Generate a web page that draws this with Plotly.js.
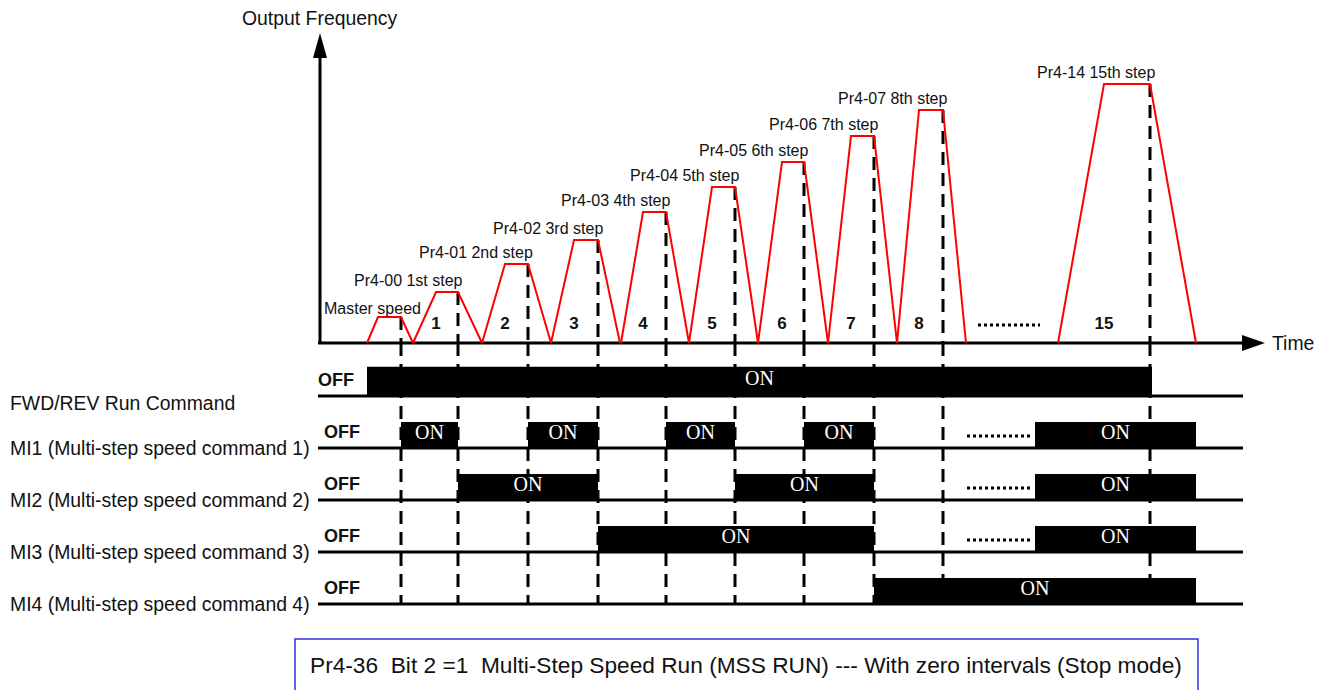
<!DOCTYPE html>
<html><head><meta charset="utf-8">
<script src="https://cdn.plot.ly/plotly-3.0.1.min.js"></script>
<style>html,body{margin:0;padding:0;background:#fff}#chart{width:1324px;height:690px}</style>
</head><body><div id="chart"></div>
<script>
// ---------------- data (time / frequency in diagram units) ----------------
const stepLabels = ['Master speed','Pr4-00 1st step','Pr4-01 2nd step','Pr4-02 3rd step','Pr4-03 4th step',
  'Pr4-04 5th step','Pr4-05 6th step','Pr4-06 7th step','Pr4-07 8th step','Pr4-14 15th step'];
const stepNumbers = ['','1','2','3','4','5','6','7','8','15'];
const stepFreq   = [26, 51, 79, 103, 131, 156, 181, 207, 233, 259];
const rampStart  = [47, 93, 162, 231, 301, 369, 438, 508, 577, 738];
const holdStart  = [58, 116, 185, 254, 323, 392, 462, 531, 599, 784];
const holdEnd    = [81, 138, 208, 278, 346, 415, 484, 554, 623, 830];
const rampEnd    = [93, 162, 231, 300, 369, 438, 508, 577, 646, 876];

const signalNames = ['FWD/REV Run Command','MI1 (Multi-step speed command 1)','MI2 (Multi-step speed command 2)',
  'MI3 (Multi-step speed command 3)','MI4 (Multi-step speed command 4)'];
const fwdOn = [[47, 832]];
const mi1On = [[81, 138], [208, 278], [346, 415], [484, 554], [715, 876]];
const mi2On = [[138, 278], [415, 554], [715, 876]];
const mi3On = [[278, 554], [715, 876]];
const mi4On = [[554, 876]];
const signalsOn = [fwdOn, mi1On, mi2On, mi3On, mi4On];
const timeSpan = [-2, 923];          // extent of time axis / signal lines
const freqSkip = [658, 720];         // "....." between step 8 and 15 (frequency)
const signalSkip = [647, 712];       // "....." in MI1..MI3 rows
const noteText = 'Pr4-36  Bit 2 =1  Multi-Step Speed Run (MSS RUN) --- With zero intervals (Stop mode)';

// ---------------- layout constants ----------------
const W = 1324, H = 690;
const FONT = 'Liberation Sans, Arial, sans-serif';
const SERIF = 'Liberation Serif, Times New Roman, serif';
const TXT = '#111';
const barH = [0.56, 0.5, 0.5, 0.5, 0.5];
const BASE_IN_Y2 = 1.02;   // frequency baseline expressed on the signal axis
const px = v => 1 - v / H;

const traces = [];

// dashed guide lines (frequency part + signal part)
const dx1 = [], dy1 = [], dx2 = [], dy2 = [];
holdEnd.forEach((t, i) => {
  dx1.push(t, t, null); dy1.push(stepFreq[i], 0, null);
  dx2.push(t, t, null); dy2.push(BASE_IN_Y2, -4, null);
});
traces.push({x: dx1, y: dy1, mode: 'lines', line: {color: '#000', width: 3, dash: '13px,8px'}, hoverinfo: 'skip'});
traces.push({x: dx2, y: dy2, yaxis: 'y2', mode: 'lines', line: {color: '#000', width: 3, dash: '13px,8px'}, hoverinfo: 'skip'});

// signal bars
signalsOn.forEach((segs, k) => {
  const bx = [], by = [];
  segs.forEach(([a, b]) => { bx.push(a, b, b, a, a, null); by.push(-k, -k, -k + barH[k], -k + barH[k], -k, null); });
  traces.push({x: bx, y: by, yaxis: 'y2', mode: 'lines', fill: 'toself', fillcolor: '#000',
    line: {width: 0, color: '#000'}, hoverinfo: 'skip'});
});
// signal baselines
signalsOn.forEach((segs, k) => {
  traces.push({x: timeSpan, y: [-k, -k], yaxis: 'y2', mode: 'lines', line: {color: '#000', width: 3}, hoverinfo: 'skip'});
});
// ON labels
signalsOn.forEach((segs, k) => {
  traces.push({x: segs.map(s => (s[0] + s[1]) / 2), y: segs.map(() => -k + barH[k] / 2 + 0.02), yaxis: 'y2',
    mode: 'text', text: segs.map(() => 'ON'), textposition: 'middle center',
    textfont: {family: SERIF, size: 20, color: '#fff'}, hoverinfo: 'skip'});
});
// dotted "skip" marks in signal rows
const sdx = [], sdy = [];
[1, 2, 3].forEach(k => { sdx.push(signalSkip[0], signalSkip[1], null); sdy.push(-k + 0.23, -k + 0.23, null); });
traces.push({x: sdx, y: sdy, yaxis: 'y2', mode: 'lines', line: {color: '#000', width: 3, dash: '3px,3px'}, hoverinfo: 'skip'});
traces.push({x: freqSkip, y: [18, 18], mode: 'lines', line: {color: '#000', width: 3, dash: '3px,3px'}, hoverinfo: 'skip'});

// axes shafts
traces.push({x: [timeSpan[0], timeSpan[1]], y: [0, 0], mode: 'lines', line: {color: '#000', width: 3}, hoverinfo: 'skip'});
traces.push({x: [0, 0], y: [-1, 286], mode: 'lines', line: {color: '#000', width: 3}, hoverinfo: 'skip'});

// frequency profile
const fx = [], fy = [];
stepFreq.forEach((f, i) => {
  fx.push(rampStart[i], holdStart[i], holdEnd[i], rampEnd[i], null);
  fy.push(0, f, f, 0, null);
});
traces.push({x: fx, y: fy, mode: 'lines', line: {color: '#ff0000', width: 2}, hoverinfo: 'skip'});

// step numbers
traces.push({x: holdStart.slice(1), y: holdStart.slice(1).map(() => 18), mode: 'text', text: stepNumbers.slice(1),
  textposition: 'middle center', textfont: {family: FONT, size: 17, color: TXT, weight: 'bold'}, hoverinfo: 'skip'});

// ---------------- annotations ----------------
const ann = [];
stepLabels.forEach((s, i) => {
  const master = i === 0;
  ann.push({xref: 'x', yref: 'y', x: master ? rampEnd[i] + 10 : holdEnd[i] + 7, y: stepFreq[i] + (master ? 9 : 12),
    text: s, showarrow: false, xanchor: 'right', yanchor: 'middle', font: {family: FONT, size: 16, color: TXT}});
});
signalNames.forEach((s, k) => {
  ann.push({xref: 'paper', yref: 'y2', x: 8 / W, y: k === 0 ? -0.13 : -k, text: s, showarrow: false,
    xanchor: 'left', yanchor: 'middle', font: {family: FONT, size: 19.4, color: TXT}});
  ann.push({xref: 'x', yref: 'y2', x: k === 0 ? -4 : 2, y: -k + 0.3, text: '<b>OFF</b>', showarrow: false,
    xanchor: 'left', yanchor: 'middle', font: {family: FONT, size: 18, color: TXT}});
});
ann.push({xref: 'x', yref: 'paper', x: 0, y: px(18), text: 'Output Frequency', showarrow: false,
  xanchor: 'center', yanchor: 'middle', font: {family: FONT, size: 19.4, color: TXT}});
ann.push({xref: 'x', yref: 'y', x: 950, y: 0, text: 'Time', showarrow: false,
  xanchor: 'left', yanchor: 'middle', font: {family: FONT, size: 19.4, color: TXT}});
ann.push({xref: 'paper', yref: 'paper', x: 746 / W, y: px(665), text: noteText, showarrow: false,
  xanchor: 'center', yanchor: 'middle', font: {family: FONT, size: 22.7, color: TXT}});

const shapes = [
  // arrow heads
  {type: 'path', xref: 'x', yref: 'y', path: 'M -7 285 L 7 285 L 0 310 Z', fillcolor: '#000', line: {width: 0}},
  {type: 'path', xref: 'x', yref: 'y', path: 'M 922 8 L 922 -8 L 945 0 Z', fillcolor: '#000', line: {width: 0}},
  // note box
  {type: 'rect', xref: 'paper', yref: 'paper', x0: 295 / W, x1: 1198 / W, y0: px(705), y1: px(639),
    line: {color: '#2e2ee6', width: 1.5}, fillcolor: 'rgba(0,0,0,0)'}
];

const layout = {
  width: W, height: H, margin: {l: 0, r: 0, t: 0, b: 0},
  paper_bgcolor: '#fff', plot_bgcolor: '#fff', showlegend: false,
  xaxis: {range: [-320, 1004], visible: false, fixedrange: true},
  yaxis: {range: [-347, 343], visible: false, fixedrange: true},
  yaxis2: {range: [-5.654, 7.615], overlaying: 'y', visible: false, fixedrange: true},
  annotations: ann, shapes: shapes
};
Plotly.newPlot('chart', traces, layout, {staticPlot: true, displayModeBar: false});
</script></body></html>
